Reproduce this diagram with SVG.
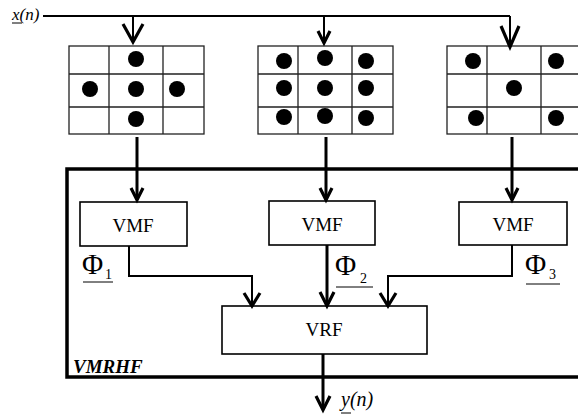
<svg xmlns="http://www.w3.org/2000/svg" width="578" height="416" viewBox="0 0 578 416">
<style>
.grid{fill:#fff;stroke:#222;stroke-width:1.3}
.gl{stroke:#222;stroke-width:1.3}
.dot{fill:#000}
.box{fill:#fff;stroke:#000;stroke-width:1.6}
.thin{fill:none;stroke:#000;stroke-width:2}
.thick{fill:none;stroke:#000;stroke-width:3}
.ah{fill:none;stroke:#000;stroke-width:3.2;stroke-linejoin:miter}
.lbl{font-family:"Liberation Serif","Times New Roman",serif;fill:#000}
.phi{font-size:29px}
.sub{font-size:14px}
.ul{stroke:#000;stroke-width:1}
</style>
<rect width="578" height="416" fill="#fff"/>
<g id="frame">
<path d="M590 169 H67 V377 H590" fill="none" stroke="#000" stroke-width="3.5"/>
<text class="lbl" x="73" y="373" font-size="19" font-weight="bold" font-style="italic">VMRHF</text>
</g>
<g id="grid1">
<rect class="grid" x="69" y="46" width="135" height="88"/>
<path class="gl" d="M109 46V134M163 46V134M69 74H204M69 107H204"/>
<circle class="dot" cx="136" cy="59" r="8"/>
<circle class="dot" cx="90" cy="89" r="8"/>
<circle class="dot" cx="136" cy="89" r="8"/>
<circle class="dot" cx="177" cy="89" r="8"/>
<circle class="dot" cx="136" cy="119" r="8"/>
</g>
<g id="grid2">
<rect class="grid" x="258" y="46" width="135" height="88"/>
<path class="gl" d="M298 46V134M352 46V134M258 74H393M258 107H393"/>
<circle class="dot" cx="284" cy="61" r="8"/>
<circle class="dot" cx="325" cy="58" r="8"/>
<circle class="dot" cx="366" cy="61" r="8"/>
<circle class="dot" cx="284" cy="88" r="8"/>
<circle class="dot" cx="325" cy="88" r="8"/>
<circle class="dot" cx="366" cy="88" r="8"/>
<circle class="dot" cx="284" cy="117" r="8"/>
<circle class="dot" cx="325" cy="116" r="8"/>
<circle class="dot" cx="366" cy="118" r="8"/>
</g>
<g id="grid3">
<rect class="grid" x="447" y="46" width="140" height="88"/>
<path class="gl" d="M487 46V134M541 46V134M447 74H590M447 107H590"/>
<circle class="dot" cx="473" cy="61" r="8"/>
<circle class="dot" cx="556" cy="61" r="8"/>
<circle class="dot" cx="514" cy="88" r="8"/>
<circle class="dot" cx="476" cy="118" r="8"/>
<circle class="dot" cx="556" cy="118" r="8"/>
</g>
<g id="vmf1">
<rect class="box" x="80" y="202" width="107" height="44"/>
<text class="lbl" x="133" y="232" font-size="19" text-anchor="middle">VMF</text>
</g>
<g id="vmf2">
<rect class="box" x="269" y="201" width="106" height="44"/>
<text class="lbl" x="322" y="231" font-size="19" text-anchor="middle">VMF</text>
</g>
<g id="vmf3">
<rect class="box" x="459" y="202" width="108" height="43"/>
<text class="lbl" x="513" y="231" font-size="19" text-anchor="middle">VMF</text>
</g>
<g id="vrf">
<rect class="box" x="222" y="306" width="205" height="48"/>
<text class="lbl" x="324" y="336" font-size="19" text-anchor="middle">VRF</text>
</g>
<g id="connectors">
<path class="thin" d="M43 16H510"/>
<path class="thin" d="M133 16V42"/>
<path class="ah" d="M123 24L133 42L143 24"/>
<path class="thin" d="M324 16V43"/>
<path class="ah" d="M318 31L324 43L330 31"/>
<path class="thin" d="M510 16V47"/>
<path class="ah" d="M501 26L510 47L519 26"/>
<path class="thick" d="M137 137V200"/>
<path class="ah" d="M131 188L137 200L143 188"/>
<path class="thick" d="M326 137V200"/>
<path class="ah" d="M320 188L326 200L332 188"/>
<path class="thick" d="M512 137V200"/>
<path class="ah" d="M506 188L512 200L518 188"/>
<path class="thin" d="M129 246V276H252V305"/>
<path class="ah" d="M244 293L252 306L260 293"/>
<path class="thick" d="M327 245V305"/>
<path class="ah" d="M320 292L327 306L334 292"/>
<path class="thin" d="M512 245V276H388V305"/>
<path class="ah" d="M380 293L388 306L396 293"/>
<path class="thick" d="M323 354V409"/>
<path class="ah" d="M316 396L323 410L330 396"/>
</g>
<g id="labels">
<text class="lbl" x="12" y="20" font-size="17" font-style="italic">x(n)</text>
<line class="ul" x1="12" y1="23" x2="22" y2="23"/>
<text class="lbl phi" x="82" y="274">Φ</text>
<text class="lbl sub" x="105" y="279">1</text>
<line class="ul" x1="83" y1="282" x2="113" y2="282"/>
<text class="lbl phi" x="335" y="275">Φ</text>
<text class="lbl sub" x="360" y="283">2</text>
<line class="ul" x1="336" y1="287" x2="373" y2="287"/>
<text class="lbl phi" x="525" y="274">Φ</text>
<text class="lbl sub" x="549" y="279">3</text>
<line class="ul" x1="526" y1="284" x2="560" y2="284"/>
<text class="lbl" x="341" y="406" font-size="20" font-style="italic">y(n)</text>
<line class="ul" x1="341" y1="413" x2="351" y2="413"/>
</g>
</svg>
